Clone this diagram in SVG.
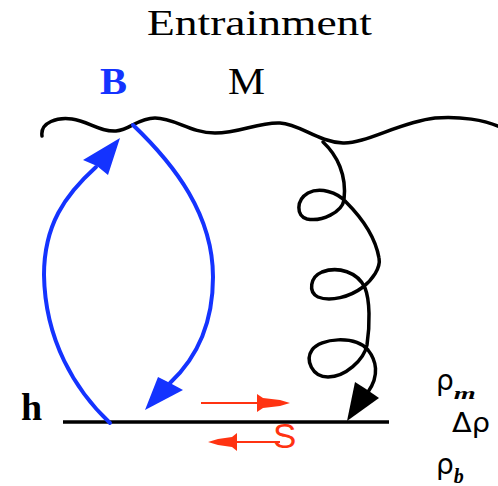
<svg xmlns="http://www.w3.org/2000/svg" width="498" height="486" viewBox="0 0 498 486">
<style>
.serif{font-family:"Liberation Serif","Times New Roman",serif;}
.sans{font-family:"Liberation Sans",Arial,sans-serif;}
.greek{font-family:"DejaVu Sans","Liberation Sans",sans-serif;}
.blk{fill:none;stroke:#000;stroke-width:3.5;stroke-linecap:round;stroke-linejoin:round;}
.blue{fill:none;stroke:#1433ff;stroke-width:4;stroke-linecap:round;}
.red{fill:none;stroke:#ff3311;stroke-width:2;}
</style>
<rect width="498" height="486" fill="#fff"/>
<g id="title"><text class="serif" x="147" y="35" font-size="36" textLength="225" lengthAdjust="spacingAndGlyphs">Entrainment</text></g>
<g id="label-B"><text class="serif" x="100" y="94" font-size="37" font-weight="bold" fill="#1433ff" textLength="27" lengthAdjust="spacingAndGlyphs">B</text></g>
<g id="label-M"><text class="serif" x="228" y="94" font-size="37" textLength="37" lengthAdjust="spacingAndGlyphs">M</text></g>
<g id="label-h"><text class="serif" x="21" y="420" font-size="38" font-weight="bold">h</text></g>
<g id="interface">
<path class="blk" d="M 42,136 C 40,122 58,117 72,119 C 88,121 100,132 116,131 C 130,130 138,118 155,118 C 175,118 190,133 215,133 C 240,133 258,122 280,123 C 300,124 318,142 343,143 C 365,144 400,122 435,118 C 460,116 485,120 500,127"/>
</g>
<g id="baseline">
<line x1="63" y1="422" x2="389" y2="422" stroke="#000" stroke-width="3.5"/>
</g>
<g id="connectors">
<g id="spiral">
<path class="blk" d="M 323,142 C 337,155 347,175 344,200 C 342,212 322,222 307,219 C 296,216 296,200 308,193 C 320,187 337,192 346,202 C 358,214 375,235 379,258 C 381,268 372,280 363,287 C 350,297 330,302 318,297 C 308,292 310,277 322,272 C 338,266 358,272 365,288 C 370,300 370,325 367,345 C 364,360 345,377 328,377 C 312,377 305,360 312,350 C 320,338 355,335 368,350 C 376,360 380,375 368,392"/>
<polygon points="347,421 355,382 366,389 379,398" fill="#000"/>
</g>
<g id="blue-up">
<path class="blue" d="M 110,423 C 75,390 45,340 44,275 C 44,225 65,195 96,167"/>
<polygon points="120,138 108,175 97,166 83,160" fill="#1433ff"/>
</g>
<g id="blue-down">
<path class="blue" d="M 133,125 C 175,165 213,215 213,277 C 213,320 200,355 170,383"/>
<polygon points="145,410 158,377 170,383 183,390" fill="#1433ff"/>
</g>
<g id="red-right">
<line class="red" x1="201" y1="403" x2="260" y2="403"/>
<polygon points="257,394 263,398 280,400 290,403 280,406 263,408 257,412" fill="#ff3311"/>
</g>
<g id="red-left">
<line class="red" x1="234" y1="442" x2="280" y2="442"/>
<polygon points="208,442 218,439 232,437 237,433 237,451 232,447 218,445" fill="#ff3311"/>
</g>
</g>
<g id="label-S"><text class="sans" x="273" y="448" font-size="35" fill="#ff3311">S</text></g>
<g id="label-rho-m"><text class="greek" x="436" y="390" font-size="28">ρ<tspan class="serif" font-size="16" font-style="italic" font-weight="bold" dy="9" textLength="22" lengthAdjust="spacingAndGlyphs">m</tspan></text></g>
<g id="label-drho"><text class="greek" x="452" y="432" font-size="26" textLength="38" lengthAdjust="spacingAndGlyphs">Δρ</text></g>
<g id="label-rho-b"><text class="greek" x="436" y="474" font-size="28">ρ<tspan class="serif" font-size="20" font-style="italic" font-weight="bold" dy="9">b</tspan></text></g>
</svg>
